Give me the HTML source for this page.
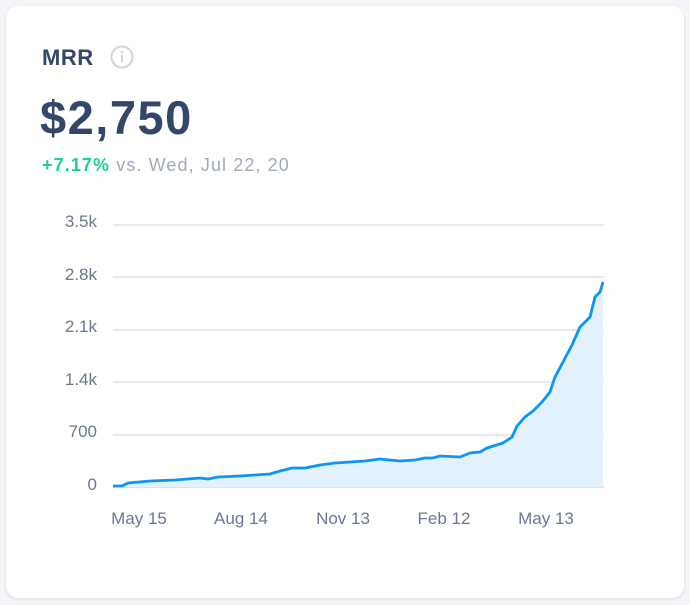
<!DOCTYPE html>
<html><head><style>
body{margin:0;width:690px;height:605px;background:#f4f5f8;font-family:"Liberation Sans",sans-serif;overflow:hidden;position:relative}
.card{position:absolute;left:6px;top:6px;width:678px;height:592px;background:#fff;border-radius:12px;box-shadow:0 1px 3px rgba(0,0,0,.12)}
.t{position:absolute;left:42px;top:45px;font-size:22px;font-weight:bold;color:#34466a;letter-spacing:0.5px}
.v{position:absolute;left:40px;top:90px;font-size:47px;font-weight:bold;color:#34466a;letter-spacing:1.5px}
.s{position:absolute;left:42px;top:155px;font-size:18px;color:#a0a9bb;letter-spacing:1.1px}
.s b{color:#1dd38f}
</style></head><body>
<div class="card"></div>
<div class="t">MRR</div>
<svg style="position:absolute;left:110px;top:45px" width="25" height="25"><circle cx="12" cy="12" r="10.5" fill="none" stroke="#cfd5de" stroke-width="2"/><rect x="11" y="10" width="2" height="7" fill="#cfd5de"/><circle cx="12" cy="7" r="1.3" fill="#cfd5de"/></svg>
<div class="v">$2,750</div>
<div class="s"><b>+7.17%</b> vs. Wed, Jul 22, 20</div>
<svg style="position:absolute;left:0;top:0" width="690" height="605" font-family="Liberation Sans, sans-serif" font-size="17" fill="#6b7890">
<g stroke="#e2e4e9" stroke-width="1.5">
<line x1="113" y1="225" x2="604" y2="225"/><line x1="113" y1="277" x2="604" y2="277"/><line x1="113" y1="330" x2="604" y2="330"/><line x1="113" y1="382" x2="604" y2="382"/><line x1="113" y1="435" x2="604" y2="435"/><line x1="113" y1="487" x2="604" y2="487" stroke="#d5d9e0"/>
</g>
<g text-anchor="end">
<text x="97" y="227">3.5k</text><text x="97" y="280">2.8k</text><text x="97" y="332">2.1k</text><text x="97" y="385">1.4k</text><text x="97" y="437">700</text><text x="97" y="490">0</text>
</g>
<g text-anchor="middle">
<text x="139" y="524">May 15</text><text x="241" y="524">Aug 14</text><text x="343" y="524">Nov 13</text><text x="444" y="524">Feb 12</text><text x="546" y="524">May 13</text>
</g>
<path d="M113,486 L122,486 L128,483 L150,481 L175,480 L200,478 L208,479 L218,477 L240,476 L255,475 L270,474 L280,471 L292,468 L305,468 L320,465 L335,463 L350,462 L365,461 L380,459 L390,460 L400,461 L415,460 L425,458 L433,458 L440,456 L460,457 L470,453 L480,452 L487,448 L503,443 L512,437 L517,426 L525,417 L533,411 L542,402 L550,392 L555,377 L563,362 L572,345 L580,327 L590,317 L595,297 L600,292 L603,282 L603,487 L113,487Z" fill="#e3f1fd"/>
<path d="M113,486 L122,486 L128,483 L150,481 L175,480 L200,478 L208,479 L218,477 L240,476 L255,475 L270,474 L280,471 L292,468 L305,468 L320,465 L335,463 L350,462 L365,461 L380,459 L390,460 L400,461 L415,460 L425,458 L433,458 L440,456 L460,457 L470,453 L480,452 L487,448 L503,443 L512,437 L517,426 L525,417 L533,411 L542,402 L550,392 L555,377 L563,362 L572,345 L580,327 L590,317 L595,297 L600,292 L603,282" fill="none" stroke="#0a95fb" stroke-width="2.8" stroke-linejoin="round"/>
</svg>
</body></html>
